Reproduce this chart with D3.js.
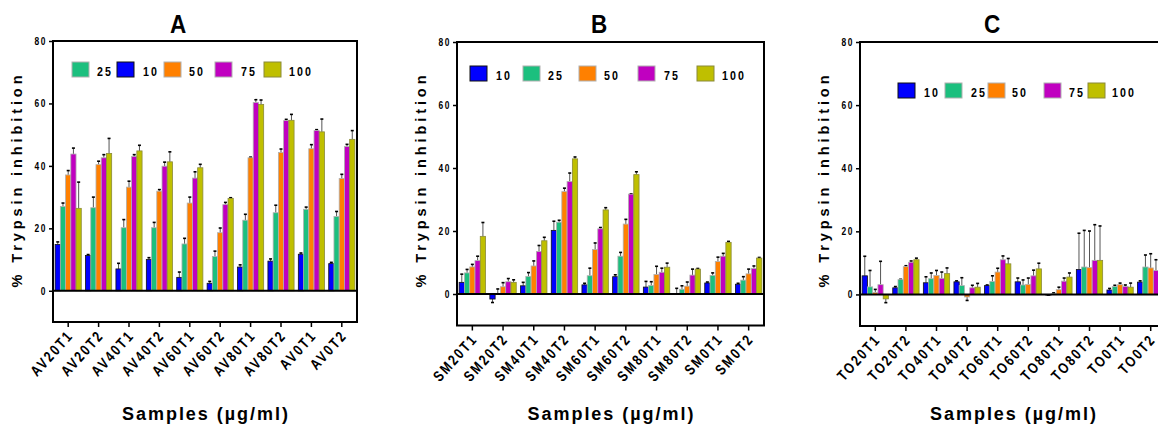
<!DOCTYPE html>
<html>
<head>
<meta charset="utf-8">
<script src="https://cdn.jsdelivr.net/npm/d3@7"></script>
<style>
  body { margin: 0; background: #fff; }
  svg { display: block; }
  text { font-family: "Liberation Sans", Arial, sans-serif; font-weight: bold; fill: #000; }
</style>
</head>
<body>
<svg id="chart" width="1158" height="432"></svg>
<script>
// concentrations (µg/ml) and their colours
const concentrations = ["10", "25", "50", "75", "100"];
const barColors = ["#0000ff", "#1cbf7e", "#ff8000", "#c000c0", "#bfbf00"];
const yTicks = [0, 20, 40, 60, 80];

// panel A
const samplesA = ["AV20T1", "AV20T2", "AV40T1", "AV40T2", "AV60T1", "AV60T2", "AV80T1", "AV80T2", "AV0T1", "AV0T2"];
const meansA = [
  [14.8, 27.0, 37.1, 43.8, 26.4],
  [11.3, 26.6, 40.4, 42.6, 44.0],
  [7.0, 20.2, 33.2, 43.0, 44.8],
  [10.0, 20.2, 31.9, 39.9, 41.3],
  [4.3, 15.0, 28.1, 36.1, 39.4],
  [2.4, 11.0, 18.6, 27.6, 29.6],
  [7.6, 22.6, 42.6, 60.3, 59.7],
  [9.5, 25.0, 44.3, 54.5, 54.6],
  [11.7, 26.1, 45.5, 51.3, 50.9],
  [8.7, 23.8, 36.0, 46.2, 48.5]
];
const errA = [
  [0.85, 1.1, 1.4, 1.9, 8.4],
  [0.3, 3.4, 1.1, 1.0, 4.8],
  [1.8, 2.6, 1.9, 0.6, 1.8],
  [0.6, 1.7, 0.5, 1.3, 3.2],
  [1.7, 1.8, 1.9, 2.0, 1.1],
  [0.6, 1.7, 1.5, 0.7, 0.2],
  [0.7, 1.9, 0.2, 0.9, 1.4],
  [0.7, 2.4, 1.1, 0.4, 1.9],
  [0.4, 0.7, 1.3, 0.3, 4.1],
  [0.4, 1.6, 1.3, 0.7, 2.8]
];

// panel B
const samplesB = ["SM20T1", "SM20T2", "SM40T1", "SM40T2", "SM60T1", "SM60T2", "SM80T1", "SM80T2", "SM0T1", "SM0T2"];
const meansB = [
  [3.7, 6.7, 8.6, 10.6, 18.3],
  [-1.6, 0.1, 2.3, 3.9, 3.7],
  [2.6, 5.6, 8.9, 13.5, 16.9],
  [20.2, 22.8, 32.5, 35.7, 42.9],
  [2.9, 5.8, 14.1, 20.7, 26.7],
  [5.5, 12.0, 22.2, 31.7, 37.9],
  [2.2, 2.7, 6.2, 6.9, 8.5],
  [0.1, 1.5, 2.5, 6.0, 7.9],
  [3.5, 5.9, 10.3, 12.0, 16.4],
  [3.1, 4.4, 6.4, 8.1, 11.4]
];
const errB = [
  [2.6, 1.1, 0.8, 1.4, 4.4],
  [1.1, 1.5, 1.3, 1.0, 0.8],
  [1.1, 1.2, 1.6, 1.9, 1.1],
  [2.9, 0.6, 1.1, 2.7, 0.6],
  [0.5, 2.4, 2.1, 0.4, 0.7],
  [0.6, 1.2, 1.5, 0.1, 0.9],
  [1.8, 1.2, 2.6, 1.3, 1.3],
  [1.7, 1.1, 1.3, 1.9, 0.2],
  [0.3, 0.8, 1.4, 0.9, 0.3],
  [0.3, 1.1, 1.5, 0.8, 0.2]
];

// panel C
const samplesC = ["TO20T1", "TO20T2", "TO40T1", "TO40T2", "TO60T1", "TO60T2", "TO80T1", "TO80T2", "TO0T1", "TO0T2"];
const meansC = [
  [5.9, 2.4, 0.6, 3.1, -1.4],
  [2.1, 4.7, 8.8, 10.2, 11.0],
  [3.7, 5.0, 6.0, 5.1, 6.6],
  [4.0, 2.8, -0.8, 2.1, 2.3],
  [2.8, 4.1, 7.1, 11.0, 9.7],
  [4.0, 3.0, 3.2, 5.9, 8.1],
  [-0.2, 0.2, 1.5, 4.2, 5.5],
  [7.9, 8.7, 8.5, 10.8, 10.8],
  [1.4, 2.5, 3.1, 2.5, 2.3],
  [3.9, 8.7, 8.4, 7.6, 7.5]
];
const errC = [
  [6.2, 5.2, 1.0, 7.4, 1.2],
  [0.4, 0.1, 0.3, 0.4, 0.5],
  [1.9, 1.8, 1.6, 2.0, 1.8],
  [0.3, 2.5, 1.1, 0.8, 1.2],
  [0.2, 1.8, 1.2, 1.2, 1.7],
  [1.2, 1.6, 2.0, 1.8, 1.8],
  [0.0, 0.3, 0.8, 1.0, 1.3],
  [11.5, 11.6, 11.6, 11.3, 10.9],
  [0.5, 0.4, 0.5, 0.5, 1.3],
  [0.4, 3.8, 4.5, 3.4, 3.0]
];

const svg = d3.select("#chart");

const panels = [
  { title: "A", titleX: 178, samples: samplesA, means: meansA, errs: errA,
    x0: 53, x1: 357, yTop: 41, yBot: 322, yTitleX: 17,
    legendOrder: [1, 0, 2, 3, 4], legendY: 62,
    legendBoxX: [72, 117, 164, 215, 264], legendTextX: [97, 143, 189, 241, 289] },
  { title: "B", titleX: 599, samples: samplesB, means: meansB, errs: errB,
    x0: 457, x1: 764, yTop: 42, yBot: 325.5, yTitleX: 421,
    legendOrder: [0, 1, 2, 3, 4], legendY: 66,
    legendBoxX: [470, 523, 579, 638, 697], legendTextX: [496, 548, 604, 664, 722] },
  { title: "C", titleX: 992, samples: samplesC, means: meansC, errs: errC,
    x0: 860, x1: 1166, yTop: 42, yBot: 326, yTitleX: 824,
    legendOrder: [0, 1, 2, 3, 4], legendY: 83,
    legendBoxX: [898, 945, 988, 1044, 1088], legendTextX: [924, 971, 1012, 1069, 1112] }
];

panels.forEach(p => drawPanel(p));

function edgeColor(j) {
  return j === 0 ? "#111" : (j === 4 ? "#8a8a3a" : "#b0b0b0");
}

function drawPanel(p) {
  const g = svg.append("g");

  const x = d3.scaleBand()
    .domain(p.samples)
    .range([p.x0, p.x1])
    .paddingInner(0.14)
    .paddingOuter(0.07);

  const xs = d3.scaleBand()
    .domain(concentrations)
    .range([0, x.bandwidth()]);

  const y = d3.scaleLinear()
    .domain([-10, 80])
    .range([p.yBot, p.yTop]);

  // bars
  const rows = p.samples.map((s, i) => ({ sample: s, vals: p.means[i], errs: p.errs[i] }));
  const groups = g.append("g").selectAll("g")
    .data(rows)
    .enter()
    .append("g")
    .attr("transform", d => "translate(" + x(d.sample) + ",0)");

  const cells = groups.selectAll("g")
    .data(d => d.vals.map((v, j) => ({ v: v, e: d.errs[j], j: j })))
    .enter()
    .append("g");

  const cx = d => xs(concentrations[d.j]) + xs.bandwidth() / 2;
  const tip = d => y(d.v + (d.v < 0 ? -d.e : d.e));

  cells.append("line")
    .attr("x1", cx).attr("x2", cx)
    .attr("y1", d => y(d.v))
    .attr("y2", tip)
    .attr("stroke", "#555")
    .attr("stroke-width", 1);

  cells.append("line")
    .attr("x1", d => cx(d) - 1.5)
    .attr("x2", d => cx(d) + 1.5)
    .attr("y1", tip).attr("y2", tip)
    .attr("stroke", "#000")
    .attr("stroke-width", 1.6);

  cells.append("rect")
    .attr("x", d => xs(concentrations[d.j]))
    .attr("width", xs.bandwidth())
    .attr("y", d => Math.min(y(d.v), y(0)))
    .attr("height", d => Math.abs(y(d.v) - y(0)))
    .attr("fill", d => barColors[d.j])
    .attr("stroke", d => edgeColor(d.j))
    .attr("stroke-width", 0.8);

  // frame
  g.append("rect")
    .attr("x", p.x0)
    .attr("y", y(80))
    .attr("width", p.x1 - p.x0)
    .attr("height", y(-10) - y(80))
    .attr("fill", "none")
    .attr("stroke", "#000")
    .attr("stroke-width", 2);

  // zero line
  g.append("line")
    .attr("x1", p.x0).attr("x2", p.x1)
    .attr("y1", y(0)).attr("y2", y(0))
    .attr("stroke", "#000")
    .attr("stroke-width", 2);

  // y axis
  const ya = g.append("g")
    .attr("transform", "translate(" + p.x0 + ",0)")
    .call(d3.axisLeft(y).tickValues(yTicks).tickSize(4).tickSizeOuter(0));
  ya.select(".domain").remove();
  ya.selectAll(".tick line").attr("stroke-width", 1.5);
  ya.selectAll(".tick text")
    .attr("x", null)
    .attr("dy", null)
    .attr("transform", "translate(-6,3.5) scale(0.8,1)")
    .style("font-size", "10.5px")
    .style("letter-spacing", "2px");

  // x axis
  const xa = g.append("g")
    .attr("transform", "translate(0," + y(-10) + ")")
    .call(d3.axisBottom(x).tickSize(5).tickSizeOuter(0));
  xa.select(".domain").remove();
  xa.selectAll(".tick line").attr("stroke-width", 1.5);
  xa.selectAll(".tick text")
    .attr("text-anchor", "end")
    .attr("dy", null)
    .attr("y", 0)
    .attr("transform", "translate(6,14) rotate(-48) scale(0.8,1)")
    .style("font-size", "15px")
    .style("letter-spacing", "2.6px");

  // titles
  g.append("text")
    .attr("transform", "translate(" + p.titleX + ",33) scale(0.9,1)")
    .attr("text-anchor", "middle")
    .style("font-size", "25px")
    .text(p.title);

  g.append("text")
    .attr("transform", "translate(" + (p.yTitleX + 5) + ",181.5) rotate(-90)")
    .attr("text-anchor", "middle")
    .attr("textLength", 212)
    .attr("lengthAdjust", "spacing")
    .style("font-size", "14.5px")
    .text("% Trypsin inhibition");

  g.append("text")
    .attr("x", (p.x0 + p.x1) / 2)
    .attr("y", 420)
    .attr("text-anchor", "middle")
    .attr("textLength", 166)
    .attr("lengthAdjust", "spacing")
    .style("font-size", "18px")
    .text("Samples (µg/ml)");

  // legend
  const lg = g.append("g");
  p.legendOrder.forEach((j, k) => {
    lg.append("rect")
      .attr("x", p.legendBoxX[k])
      .attr("y", p.legendY)
      .attr("width", 17)
      .attr("height", 15)
      .attr("fill", barColors[j])
      .attr("stroke", edgeColor(j))
      .attr("stroke-width", 1);
    lg.append("text")
      .attr("transform", "translate(" + p.legendTextX[k] + "," + (p.legendY + 13.5) + ") scale(0.82,1)")
      .style("font-size", "13px")
      .style("letter-spacing", "2.5px")
      .text(concentrations[j]);
  });
}
</script>
</body>
</html>
